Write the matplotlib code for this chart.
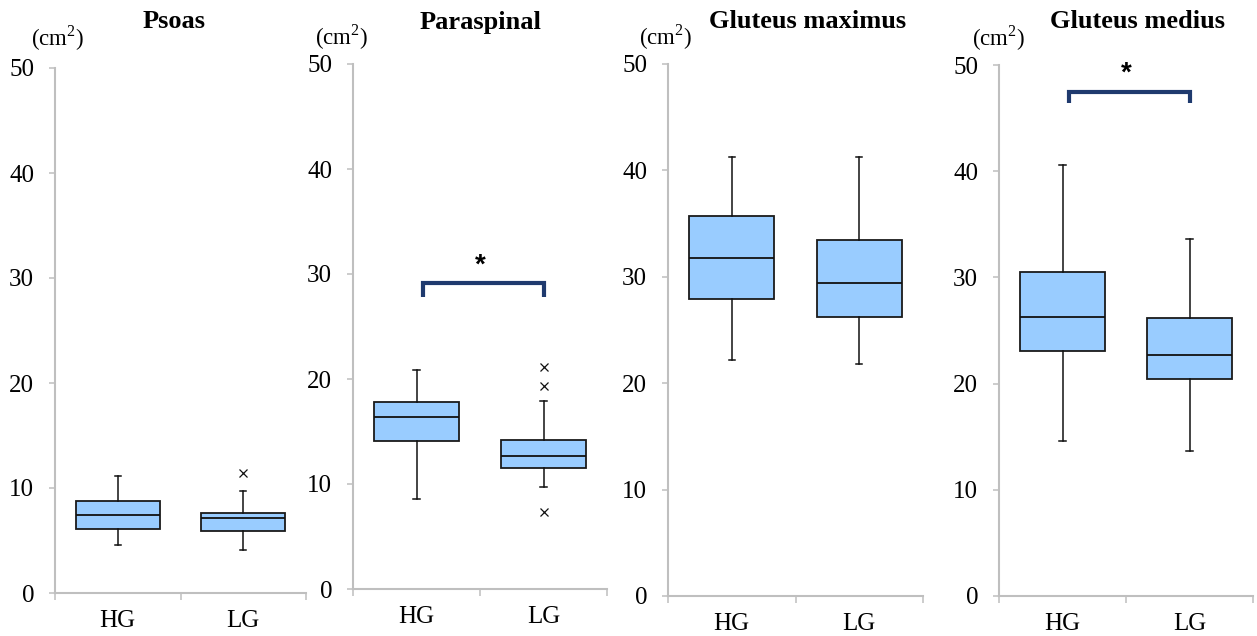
import matplotlib
matplotlib.use("Agg")
import matplotlib.pyplot as plt

plt.rcParams['font.family'] = ['Liberation Serif', 'DejaVu Serif']
plt.rcParams['mathtext.fontset'] = 'custom'
plt.rcParams['mathtext.rm'] = 'Liberation Serif'

categories = ["HG", "LG"]
titles = ["Psoas", "Paraspinal", "Gluteus maximus", "Gluteus medius"]

# [whislo, q1, median, q3, whishi] for HG and LG
psoas_hg = [4.6, 6.1, 7.4, 8.75, 11.1]
psoas_lg = [4.05, 5.95, 7.1, 7.65, 9.7]
psoas_fliers_hg = []
psoas_fliers_lg = [11.45]

parasp_hg = [8.55, 14.05, 16.35, 17.8, 20.9]
parasp_lg = [9.7, 11.55, 12.65, 14.2, 17.9]
parasp_fliers_hg = []
parasp_fliers_lg = [21.1, 19.35, 7.3]

gmax_hg = [22.15, 27.95, 31.75, 35.75, 41.3]
gmax_lg = [21.85, 26.2, 29.4, 33.45, 41.25]
gmax_fliers_hg = []
gmax_fliers_lg = []

gmed_hg = [14.55, 23.1, 26.3, 30.5, 40.55]
gmed_lg = [13.7, 20.4, 22.7, 26.2, 33.6]
gmed_fliers_hg = []
gmed_fliers_lg = []

# significance brackets: panel index, bracket level, arm bottom, star level
sig_panels = [1, 3]
sig_levels = [29.1, 47.5]
sig_arms = [27.8, 46.4]
sig_stars = [30.8, 49.2]

panels = [
    (psoas_hg, psoas_lg, psoas_fliers_hg, psoas_fliers_lg),
    (parasp_hg, parasp_lg, parasp_fliers_hg, parasp_fliers_lg),
    (gmax_hg, gmax_lg, gmax_fliers_hg, gmax_fliers_lg),
    (gmed_hg, gmed_lg, gmed_fliers_hg, gmed_fliers_lg),
]

W, H = 1257, 636
fig = plt.figure(figsize=(W / 100, H / 100), dpi=100)

# axes pixel extents: (x_left, x_right, y_zero, y_fifty)
ax_px = [(55, 306, 593, 68), (353, 607, 589, 64), (668, 923, 596, 64), (999, 1253, 596, 65)]
title_px = [(174, 22), (481, 22), (808, 22), (1138, 22)]
unit_px = [(58, 38), (342, 37), (666, 37), (999, 38)]

grey = '#BFBFBF'
box_face = '#99CCFF'
bracket_col = '#1F3A6E'

def make_stats(v, fl, label):
    return dict(whislo=v[0], q1=v[1], med=v[2], q3=v[3], whishi=v[4], fliers=fl, label=label)

for i, (hg, lg, fhg, flg) in enumerate(panels):
    x0, x1, y0, y50 = ax_px[i]
    ax = fig.add_axes([x0 / W, (H - y0) / H, (x1 - x0) / W, (y0 - y50) / H])
    stats = [make_stats(hg, fhg, categories[0]), make_stats(lg, flg, categories[1])]
    ax.bxp(stats, positions=[0, 1], widths=0.67, patch_artist=True,
           boxprops=dict(facecolor=box_face, edgecolor='#1a1a1a', linewidth=1.3),
           medianprops=dict(color='#111111', linewidth=1.3),
           whiskerprops=dict(color='#111111', linewidth=1.1),
           capprops=dict(color='#111111', linewidth=1.1),
           capwidths=0.05,
           flierprops=dict(marker='x', markersize=6, markeredgecolor='#111111',
                           markeredgewidth=0.9, linestyle='none'),
           manage_ticks=False)
    ax.set_xlim(-0.5, 1.5)
    ax.set_ylim(0, 50)
    ax.set_yticks([0, 10, 20, 30, 40, 50])
    ax.set_xticks([0, 1])
    ax.set_xticklabels(categories, fontsize=18)
    ax.set_xticks([-0.5, 0.5, 1.5], minor=True)
    ax.tick_params(axis='x', which='major', length=0, pad=12)
    ax.tick_params(axis='x', which='minor', length=5, width=1.1, color=grey, direction='out')
    ax.tick_params(axis='y', which='major', length=4, width=1.1, color=grey, direction='out',
                   labelsize=18, pad=11)
    for s in ['top', 'right']:
        ax.spines[s].set_visible(False)
    for s in ['left', 'bottom']:
        ax.spines[s].set_color(grey)
        ax.spines[s].set_linewidth(1.5)
    ax.patch.set_visible(False)

    if i in sig_panels:
        k = sig_panels.index(i)
        ax.plot([0.05, 0.05, 1.0, 1.0], [sig_arms[k], sig_levels[k], sig_levels[k], sig_arms[k]],
                color=bracket_col, linewidth=3, solid_capstyle='butt', solid_joinstyle='miter',
                clip_on=False)
        ax.text(0.5, sig_stars[k], '*', ha='center', va='center', fontsize=20,
                fontweight='bold', family=['Liberation Sans', 'DejaVu Sans'])

    tx, ty = title_px[i]
    fig.text(tx / W, 1 - ty / H, titles[i], ha='center', va='center', fontsize=19,
             fontweight='bold')
    ux, uy = unit_px[i]
    fig.text(ux / W, 1 - uy / H, '(cm$^{2}$)', ha='center', va='center', fontsize=16.5)

fig.savefig('out.png', dpi=100)
